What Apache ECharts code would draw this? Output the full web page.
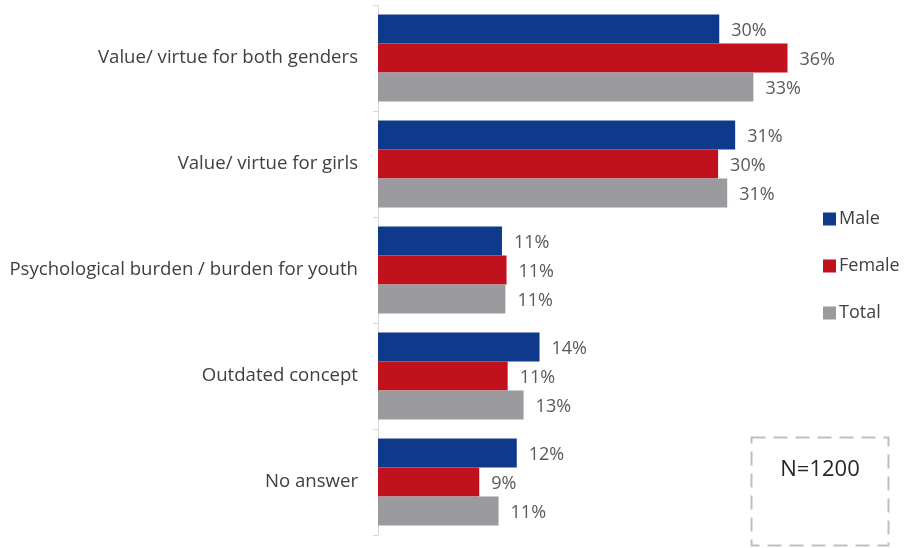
<!DOCTYPE html>
<html>
<head>
<meta charset="utf-8">
<script src="https://cdn.jsdelivr.net/npm/echarts@6/dist/echarts.min.js"></script>
<style>html,body{margin:0;padding:0;background:#fff}#c{width:905px;height:548px}</style>
</head>
<body>
<div id="c"></div>
<script>
var categories = ["Value/ virtue for both genders", "Value/ virtue for girls", "Psychological burden / burden for youth", "Outdated concept", "No answer"];
var male = [30.0, 31.4, 10.9, 14.2, 12.2];
var female = [36.0, 29.9, 11.3, 11.4, 8.9];
var total = [33.0, 30.7, 11.2, 12.8, 10.6];
var seriesNames = ["Male", "Female", "Total"];
var colors = ["#0F3A8C", "#C0111D", "#9B9B9F"];
var noteText = "N=1200";

var chart = echarts.init(document.getElementById('c'), null, {renderer: 'canvas'});
var FONT = 'Open Sans';
function mk(name, data, color) {
  return {
    name: name, type: 'bar', data: data,
    itemStyle: {color: color},
    barGap: '0%', barCategoryGap: '18%',
    label: {
      show: true, position: 'right', distance: 12, offset: [0, 2],
      color: '#595959', fontFamily: FONT, fontSize: 18,
      formatter: function (p) { return Math.round(p.value) + '%'; }
    }
  };
}
chart.setOption({
  animation: false,
  color: colors,
  grid: {left: 378, top: 5, width: 455, height: 530},
  xAxis: {type: 'value', min: 0, max: 40, show: false},
  yAxis: {
    type: 'category', data: categories, inverse: true,
    axisLine: {show: true, lineStyle: {color: '#D9D9D9', width: 1}},
    axisTick: {show: true, length: 5, lineStyle: {color: '#D9D9D9'}},
    axisLabel: {margin: 20, color: '#404040', fontFamily: FONT, fontSize: 18.6}
  },
  legend: {
    orient: 'vertical', left: 818, top: 205,
    itemWidth: 13, itemHeight: 13, itemGap: 29,
    icon: 'rect',
    textStyle: {color: '#404040', fontFamily: FONT, fontSize: 18, padding: [0,0,0,-2]},
    data: seriesNames
  },
  series: [mk(seriesNames[0], male, colors[0]), mk(seriesNames[1], female, colors[1]), mk(seriesNames[2], total, colors[2])],
  graphic: [
    {type: 'rect', shape: {x: 751.5, y: 437.5, width: 137, height: 108},
     style: {fill: 'none', stroke: '#BFBFBF', lineWidth: 2, lineDash: [14, 8]}},
    {type: 'text', x: 820, y: 470, style: {text: noteText, fill: '#262626', font: '22px "Open Sans"', textAlign: 'center', textVerticalAlign: 'middle'}}
  ]
});
</script>
</body>
</html>
